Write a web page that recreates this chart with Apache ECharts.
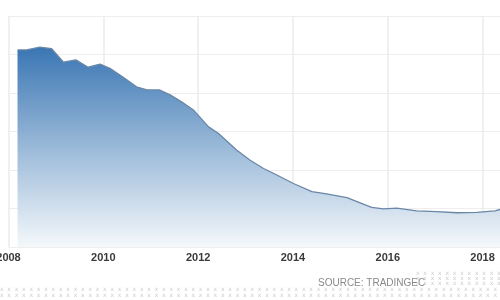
<!DOCTYPE html>
<html><head><meta charset="utf-8">
<script src="https://cdn.jsdelivr.net/npm/echarts@6/dist/echarts.min.js"></script>
<style>html,body{margin:0;padding:0;background:#fff}#c{width:500px;height:300px}</style>
</head><body><div id="c"></div>
<script>
// time (decimal year) and value
var years = [2008.19,2008.38,2008.66,2008.91,2009.16,2009.42,2009.68,2009.93,2010.14,2010.42,2010.70,2010.92,2011.18,2011.41,2011.65,2011.90,2012.22,2012.43,2012.81,2013.09,2013.38,2013.66,2014.01,2014.40,2014.71,2015.14,2015.35,2015.66,2015.91,2016.19,2016.61,2017.03,2017.46,2017.88,2018.26,2018.45,2018.65];
var values = [5.12,5.12,5.19,5.15,4.80,4.86,4.67,4.75,4.64,4.41,4.16,4.08,4.08,3.95,3.77,3.56,3.12,2.95,2.52,2.26,2.04,1.87,1.65,1.44,1.38,1.28,1.18,1.03,0.99,1.01,0.94,0.92,0.89,0.90,0.94,1.00,1.06];
var xTicks = [2008,2010,2012,2014,2016,2018];
var sourceText = 'SOURCE: TRADINGEC';

var seriesData = years.map(function(y,i){return [y, values[i]];});

// dotted watermark rows
var dots = [];
function dotRow(x0, y, n){
  var s=''; for(var i=0;i<n;i++) s+='x  ';
  dots.push({type:'text', left:x0, top:y, silent:true, style:{text:s, fill:'#cccccc', font:'6px "DejaVu Sans"'}});
}
dotRow(416,270,30); dotRow(416,275,30); dotRow(416,280,30);
dotRow(0,286,90); dotRow(0,292,90);

var chart = echarts.init(document.getElementById('c'), null, {renderer:'canvas'});
chart.setOption({
  animation:false,
  backgroundColor:'#ffffff',
  grid:{left:8.5, width:521.5, top:16, height:231, containLabel:false, outerBoundsMode:'none'},
  xAxis:{type:'value', min:2008, max:2019, interval:2,
    axisLine:{show:false}, axisTick:{show:false},
    splitLine:{show:true, lineStyle:{color:'#ebebeb', width:1.5}},
    axisLabel:{margin:5, color:'#3a3a3a', fontSize:11, fontWeight:'bold', fontFamily:'Liberation Sans',
      formatter:function(v){return xTicks.indexOf(v)>=0 ? String(v) : '';}}
  },
  yAxis:{type:'value', min:0, max:6, interval:1,
    axisLine:{show:false}, axisTick:{show:false}, axisLabel:{show:false},
    splitLine:{show:true, lineStyle:{color:'#eeeeee', width:1}}
  },
  series:[{type:'line', data:seriesData, symbol:'none', smooth:false,
    lineStyle:{color:'#6a87a6', width:1.3},
    areaStyle:{opacity:1, color:new echarts.graphic.LinearGradient(0,0,0,1,[
      {offset:0,color:'#3a76b4'},{offset:0.5,color:'#9ab9d8'},{offset:1,color:'#f4f8fb'}])}
  }],
  graphic:[{type:'text', left:318, top:278, style:{text:sourceText, fill:'#8a8a8a', font:'10px "Liberation Sans"'}}].concat(dots)
});
</script></body></html>
